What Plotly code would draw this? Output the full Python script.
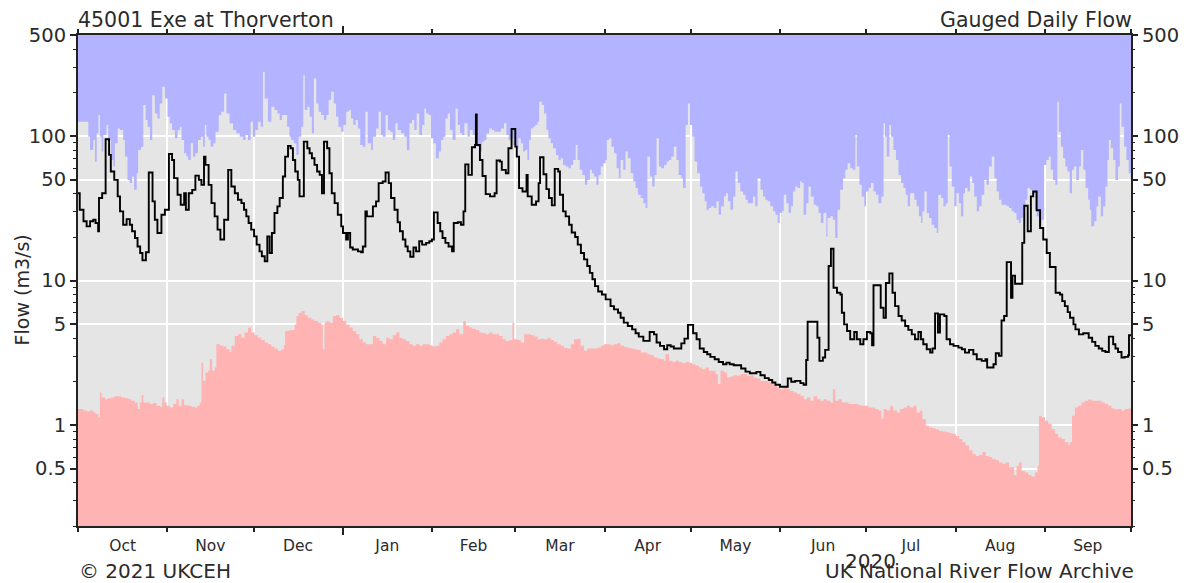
import pandas as pd
import plotly.graph_objects as go

START = pd.Timestamp("2019-10-01")
END = pd.Timestamp("2020-10-01")
Y_MIN, Y_TOP = 0.2, 500

# ---- daily gauged flow (day offset from 1 Oct 2019, m3/s) ----
flow_day = [0, 0.6, 1.9, 3.0, 4.2, 5.3, 6.1, 7.0, 7.3, 8.4, 9.6, 10.8, 11.4, 12.6, 13.8, 14.6, 15.7, 16.9,
            18.0, 18.8, 19.8, 20.7, 21.6, 22.4, 23.6, 24.6, 25.9, 26.7, 27.6, 29.0, 30.2, 31.6, 32.7, 33.4,
            34.6, 35.7, 36.9, 37.5, 38.5, 39.7, 40.8, 42.0, 42.9, 43.8, 44.3, 45.4, 46.4, 47.5, 48.5, 49.5,
            50.8, 52.2, 53.3, 54.5, 55.6, 56.8, 57.7, 58.5, 59.3, 60.2, 61.2, 62.1, 63.1, 63.9, 64.9, 65.8,
            66.6, 67.4, 68.3, 69.3, 70.1, 71.2, 72.0, 73.0, 73.9, 74.7, 75.5, 76.4, 77.0, 78.5, 79.7, 80.5,
            81.3, 82.2, 83.1, 84.0, 84.8, 85.5, 86.6, 87.4, 88.2, 89.2, 90.3, 91.5,
            92.1, 93.2, 93.8, 94.6, 95.5, 97.3, 98.4, 99.0, 99.9, 100.4, 102.5, 103.6, 104.5, 105.9, 106.9,
            108.0, 108.8, 110.0, 111.1, 111.9, 112.9, 113.8, 114.6, 115.5, 116.6, 117.5, 118.6, 119.6, 121.0,
            122.1, 123.0, 123.7, 125.0, 125.9, 126.7, 127.7, 128.8, 130.0, 130.6, 132.0, 133.1, 134.0, 134.6,
            135.7, 136.9, 138.0, 138.3, 138.6, 139.7, 140.6, 141.7, 143.2, 144.8, 145.5, 146.7, 147.3, 148.7,
            149.6, 150.7, 152.0, 152.5, 153.3, 154.5, 155.9, 156.3, 157.7, 159.2, 160.1, 160.6, 161.8, 162.8,
            163.7, 164.7, 165.7, 166.9, 167.5, 168.6, 169.5, 170.7, 171.6, 172.8, 173.7, 174.8, 175.9, 177.0,
            177.9, 178.8, 179.7, 180.8, 182.1, 183.4,
            185.1, 186.3, 187.7, 188.6, 189.7, 191.1, 192.6, 193.8, 194.9, 196.5, 198.7, 200.2, 201.1, 202.3,
            203.7, 204.8, 206.0, 207.1, 209.7, 210.8, 212.0, 213.8, 215.0, 216.1, 217.5, 218.7, 219.8, 221.3,
            222.7, 224.2, 225.4, 226.5, 227.9, 230.5, 232.0, 233.5, 235.8, 237.2, 238.7, 240.1, 241.3, 242.4,
            244.0, 246.7, 247.9, 249.3, 251.1, 252.2, 253.1, 253.6, 257.0, 257.7, 258.9, 259.7, 260.9, 261.7,
            262.6, 263.8, 265.0, 265.5, 266.3, 267.3, 268.4, 269.8, 270.7, 271.9, 273.0, 274.2, 275.4, 276.0,
            276.5, 279.0, 280.0, 280.8, 282.0, 283.1, 284.0, 285.2, 286.3, 287.5, 288.6, 289.8, 290.9, 292.1,
            293.0, 293.8, 295.0, 296.2, 297.0, 297.9, 298.9, 299.6, 301.1, 301.9, 303.1, 304.3, 306.0, 307.2,
            308.3, 309.7, 311.2, 312.4, 314.1, 315.4, 316.0, 318.2, 319.0, 320.1, 321.0, 321.9, 322.8, 324.3,
            324.8, 325.7, 328.2, 328.9, 330.1, 331.2, 332.0, 333.2, 334.4, 335.5, 336.7, 337.8, 339.8, 341.3,
            342.1, 343.0, 344.0, 344.8, 346.0, 346.7, 347.9, 349.4, 351.3, 352.5, 353.6, 354.8, 356.0, 357.1,
            358.3, 359.8, 360.6, 361.5, 362.7, 363.8, 365.0, 365.3]
flow_val = [40.2, 30.9, 25.7, 23.7, 25.7, 26.3, 25.0, 21.9, 37.2, 40.2, 95, 74, 56.8, 49.7, 38.2, 30.1, 24.3, 26.6,
            24.3, 21.9, 19.7, 17.2, 15.5, 13.8, 15.7, 55.9, 35.3, 26.3, 21.3, 28.5, 30.9, 75.1, 68.3, 51.1,
            39.2, 33.4, 40.2, 30.9, 40.2, 42.4, 53.2, 49.7, 45.9, 72, 63.1, 45.9, 34.3, 27.8, 22.5, 19.2,
            26.3, 58.3, 44.7, 40.2, 36.2, 34.3, 30.9, 27.8, 25.0, 22.5, 20.2, 17.7, 15.9, 14.7, 13.6, 20.2,
            15.5, 21.3, 29.3, 32.6, 37.2, 52.4, 72, 85.5, 82.2, 68.3, 56.8, 49.7, 38.2, 91.4, 82.2, 75.9,
            70.2, 63.1, 56.8, 53.8, 40.2, 91.4, 82.2, 55.3, 40.2, 34.3, 28.5, 23.7,
            21.3, 19.2, 21.3, 16.9, 16.4, 15.9, 15.7, 17.2, 30.1, 27.8, 32.6, 35.3, 47.2, 48.4, 55.9,
            47.2, 37.2, 30.9, 25.3, 21.9, 19.2, 17.2, 15.9, 14.6, 16.9, 15.9, 18.7, 17.7, 18.2,
            18.7, 19.2, 29.6, 25.0, 21.9, 19.7, 18.2, 17.2, 15.9, 25.0, 25.3, 24.3, 30.1, 63.6,
            53.8, 83.5, 86.7, 141, 86.7, 68.3, 52.9, 39.6, 38.2, 40.2, 67.6, 66.5, 58.3, 55.3,
            82.2, 111.8, 84.4, 72, 43.6, 41.3, 53.8, 38.2, 33.4, 35.3, 47.2, 71.3, 54.4, 42.9,
            37.2, 33.1, 59.2, 56.8, 39.2, 30.1, 27.8, 24.3, 21.5, 20.0, 17.7, 15.5, 14.0, 12.6,
            11.3, 10.2, 9.14, 8.4, 8.0, 7.4,
            6.65, 6.31, 5.98, 5.53, 5.11, 4.84, 4.59, 4.31, 4.09, 3.82, 4.40, 4.24, 3.72, 3.53,
            3.34, 3.56, 3.49, 3.38, 3.67, 3.96, 4.93, 4.31, 3.92, 3.38, 3.20, 3.09, 2.96, 2.85,
            2.73, 2.63, 2.70, 2.63, 2.59, 2.46, 2.34, 2.28, 2.33, 2.21, 2.11, 2.05, 1.97, 1.90,
            1.84, 2.10, 1.99, 2.02, 1.95, 1.90, 2.82, 5.18, 4.02, 2.78, 2.93, 3.31, 12.6, 16.6,
            8.9, 8.22, 8.0, 5.98, 4.97, 4.47, 3.92, 4.40, 3.92, 3.62, 3.92, 4.40, 4.31, 3.56,
            9.28, 6.47, 5.53, 9.6, 11.2, 8.22, 6.65, 5.68, 5.29, 4.84, 4.55, 4.24, 3.92, 4.40,
            3.92, 3.62, 3.34, 3.17, 3.38, 5.92, 4.36, 5.83, 5.68, 3.92, 3.62, 3.53, 3.43, 3.34,
            3.17, 3.31, 3.09, 2.85, 2.78, 2.85, 2.50, 2.63, 3.14, 3.01, 5.29, 5.68, 13.4, 7.6,
            10.8, 9.5, 18.2, 32.9, 21.9, 38.2, 41.3, 30.6, 23.1, 19.2, 15.5, 12.4, 8.22, 8.0,
            7.2, 6.65, 6.04, 5.53, 4.97, 4.59, 4.24, 4.31, 4.02, 3.76, 3.53, 3.38, 3.26, 3.20,
            4.09, 3.62, 3.38, 3.20, 2.93, 2.96, 3.04, 4.18]

# ---- maximum daily flow for each day over the record ----
max_day = [0, 3.6, 4.2, 5.3, 5.9, 6.5, 7.1, 7.6, 8.2, 8.8, 9.9, 10.5, 11.4, 12.3, 12.8, 13.8, 14.6, 15.7, 16.3,
           17.2, 18.0, 18.8, 19.5, 20.4, 20.9, 21.9, 22.7, 23.5, 24.2, 25.0, 25.8, 26.7, 27.6, 28.4, 29.3,
           30.2, 31.1, 31.9, 32.7, 33.7, 34.6, 35.4, 36.0, 36.9, 37.7, 38.3, 39.2, 40.0, 40.8, 41.7, 42.7,
           43.5, 44.1, 44.6, 45.4, 46.1, 47.0, 47.8, 48.9, 49.8, 50.8, 51.6, 52.7, 53.9, 55.0, 56.2, 57.4,
           58.2, 59.1, 60.0, 60.8, 61.6, 62.6, 63.5, 64.3, 64.9, 66.0, 67.2, 68.3, 69.3, 70.1, 70.9, 72.7,
           73.5, 74.1, 75.0, 75.9, 76.7, 77.6, 78.3, 78.8, 79.7, 80.5, 81.3, 82.0, 82.8, 83.6, 84.5, 85.5,
           86.3, 87.1, 88.0, 88.9, 89.7, 90.5, 91.5,
           92.3, 93.2, 94.1, 94.9, 95.7, 96.5, 97.3, 98.1, 99.0, 99.9, 100.7, 101.9, 102.5, 103.6, 104.5,
           105.3, 105.9, 106.9, 107.7, 108.5, 109.4, 110.3, 111.1, 112.3, 113.4, 114.3, 115.2, 116.1, 116.9,
           117.7, 118.6, 119.6, 120.4, 121.0, 121.9, 122.7, 123.5, 124.4, 125.4, 126.2, 127.0, 127.7, 128.5,
           129.3, 130.2, 131.2, 132.0, 132.8, 133.5, 134.3, 135.4, 136.2, 137.2, 138.1, 138.9, 139.5, 140.4,
           141.2, 142.0, 142.9, 143.9, 144.7, 145.8, 147.0, 148.1, 148.9, 149.7, 150.4, 151.3, 152.2, 153.1,
           153.9, 154.7, 155.4, 156.2, 156.8, 157.4, 158.2, 158.9, 159.7, 160.3, 161.2, 162.0, 162.8, 163.5,
           164.3, 165.1, 166.1, 167.0, 167.8, 168.6, 169.5, 170.5, 171.3, 172.1, 173.0, 173.6, 174.4, 175.3,
           176.2, 177.0, 177.9, 178.6, 179.4, 180.2, 180.9, 181.7, 182.5, 183.4,
           183.8, 184.6, 185.4, 186.3, 187.2, 188.0, 188.6, 189.5, 190.3, 191.1, 192.1, 193.0, 193.8, 194.6,
           195.6, 196.5, 197.3, 197.9, 198.8, 199.6, 200.4, 201.1, 201.9, 202.7, 203.7, 204.6, 205.4, 206.2,
           207.1, 208.0, 208.8, 209.7, 210.3, 211.2, 212.0, 212.7, 213.5, 214.3, 215.2, 216.2, 217.0, 217.8,
           218.5, 219.3, 220.1, 221.0, 221.9, 222.7, 223.5, 224.5, 225.2, 225.9, 226.8, 227.7, 228.5, 229.3,
           230.2, 231.2, 232.0, 232.8, 233.7, 234.6, 235.4, 236.2, 237.2, 238.1, 238.9, 239.7, 240.6, 241.6,
           242.4, 243.2, 243.9, 244.7, 245.3, 246.2, 247.0, 247.8, 248.5, 249.3, 250.1, 251.0, 251.6, 252.2,
           253.1, 253.9, 254.7, 255.7, 256.6, 257.4, 258.2, 259.1, 260.1, 260.5, 261.5, 262.4, 263.2, 264.0,
           264.9, 265.9, 266.7, 267.5, 268.4, 269.3, 270.2, 270.7, 271.6, 272.4, 273.3, 273.9, 274.8, 275.6,
           276.5, 277.3, 278.2, 279.2, 280.0, 280.5, 281.1, 282.0, 282.6, 283.4, 284.3, 285.2, 286.1, 286.9,
           287.7, 288.4, 289.2, 290.7, 291.5, 292.3, 293.0, 293.5, 294.2, 295.0, 295.8, 296.7, 297.6, 298.5,
           299.0, 300.0, 300.8, 301.6, 302.3, 302.9, 303.7, 304.6, 305.4, 306.2, 306.9, 307.7, 308.3, 309.2,
           310.0, 310.8, 311.5, 312.4, 313.2, 314.1, 315.0, 315.8, 316.6, 317.6, 318.5, 319.3, 320.1, 321.0,
           322.8, 323.6, 324.5, 325.4, 326.2, 327.0, 327.7, 328.5, 329.3, 330.0, 330.8, 331.7, 332.6, 333.2,
           334.0, 334.9, 335.8, 336.6, 337.4, 338.1, 338.9, 339.7, 340.4, 340.9, 341.6, 342.4, 343.2, 343.9,
           344.7, 345.5, 346.2, 347.0, 347.9, 348.6, 349.4, 350.2, 351.1, 351.7, 352.2, 353.2, 354.0, 354.6,
           355.5, 356.3, 357.1, 357.8, 358.3, 359.0, 359.8, 360.6, 361.5, 362.1, 362.7, 363.6, 364.4, 365.2,
           365.9]
max_val = [125.6, 98.9, 80.1, 93.8, 66.5, 104.3, 139.6, 98.9, 78.0, 101.6, 119.1, 93.8, 68.3, 61.4, 89.0, 112.9, 110, 93.8, 72,
           49.7, 47.2, 52.4, 42.4, 55.3, 80.1, 84.4, 163.6, 128.9, 116, 93.8, 191.8, 143.3, 132.4, 168, 218.9,
           181.9, 135.9, 122.3, 110, 96.4, 110, 116, 93.8, 75.9, 72, 68.3, 89, 72, 75.9, 93.8, 98.9,
           84.4, 119.1, 98.9, 93.8, 84.4, 89, 107.1, 139.6, 147.2, 197, 143.3, 122.3, 110, 104.3, 98.9, 93.8,
           101.6, 93.8, 125.6, 98.9, 110, 125.6, 116, 277.8, 181.9, 125.6, 159.3, 151.1, 143.3, 128.9, 139.6, 116,
           98.9, 93.8, 89, 74, 98.9, 116, 263.4, 151.1, 159.3, 135.9, 104.3, 249.9, 168, 147.2, 139.6, 128.9,
           139.6, 177.2, 202.2, 168, 135.9, 116, 107.1,
           119.1, 147.2, 151.1, 132.4, 119.1, 128.9, 112.9, 86.7, 84.4, 147.2, 89, 80.1, 98.9, 112.9, 147.2,
           101.6, 98.9, 139.6, 110, 107.1, 93.8, 122.3, 110, 104.3, 98.9, 80.1, 122.3, 128.9, 110,
           143.3, 101.6, 119.1, 155.2, 143.3, 139.6, 96.4, 89, 70.2, 78, 93.8, 98.9, 132.4, 143.3,
           110, 93.8, 155.2, 119.1, 104.3, 101.6, 122.3, 98.9, 110, 101.6, 143.3, 84.4, 78, 91.4,
           93.8, 104.3, 112.9, 110, 107.1, 107.1, 112.9, 122.3, 101.6, 93.8, 96.4, 86.7, 82.2, 96.4,
           89, 78, 80.1, 68.3, 93.8, 112.9, 116, 119.1, 125.6, 172.5, 163.6, 143.3, 110, 96.4,
           89, 82.2, 74, 68.3, 70.2, 63.1, 61.4, 59.8, 63.1, 68.3, 86.7, 68.3, 58.3, 53.8,
           45.9, 49.7, 58.3, 55.3, 52.4, 45.9, 53.8, 61.4, 64.8, 68.3,
           93.8, 96.4, 84.4, 75.9, 59.8, 51.1, 68.3, 58.3, 78, 70.2, 55.3, 48.4, 43.6, 39.2,
           37.2, 34.3, 31.7, 72, 52.4, 44.7, 53.8, 96.4, 61.4, 59.8, 63.1, 66.5, 68.3, 72,
           84.4, 68.3, 53.8, 51.1, 43.6, 119.1, 168, 119.1, 98.9, 66.5, 55.3, 44.7, 40.2, 35.3,
           30.9, 31.7, 32.6, 31.7, 35.3, 28.5, 32.6, 38.2, 40.2, 35.3, 30.9, 38.2, 56.8, 47.2,
           41.3, 39.2, 36.2, 34.3, 34.3, 38.2, 32.6, 51.1, 42.4, 38.2, 36.2, 35.3, 32.6, 30.1,
           28.5, 25, 29.3, 30.1, 39.2, 34.3, 29.3, 32.6, 41.3, 44.7, 43.6, 48.4, 47.2, 28.5,
           34.3, 44.7, 38.2, 33.4, 32.6, 29.3, 25, 29.3, 20.2, 27.1, 27.8, 26.3, 19.7, 30.9,
           42.4, 51.1, 58.3, 64.8, 59.8, 58.3, 101.6, 61.4, 45.9, 38.2, 32.6, 41.3, 43.6, 47.2,
           41.3, 39.2, 34.3, 38.2, 122.3, 98.9, 72, 119.1, 98.9, 80.1, 68.3, 53.8, 47.2, 43.6,
           39.2, 32.6, 40.2, 36.2, 32.6, 27.8, 25, 30.1, 41.3, 29.3, 27.1, 24.3, 23.1, 21.3,
           39.2, 37.2, 32.6, 34.3, 101.6, 61.4, 44.7, 32.6, 40.2, 34.3, 27.8, 40.2, 43.6, 41.3,
           52.4, 47.2, 38.2, 30.1, 32.6, 39.2, 49.7, 45.9, 61.4, 72, 51.1, 41.3, 36.2, 33.4,
           32.6, 31.7, 30.1, 29.3, 26.3, 25, 27.1, 30.9, 36.2, 43.6, 42.4, 40.2, 30.9, 27.8,
           23.7, 26.3, 63.1, 68.3, 72, 58.3, 49.7, 45.9, 172.5, 107.1, 84.4, 70.2, 61.4, 56.8,
           40.2, 58.3, 61.4, 49.7, 61.4, 80.1, 58.3, 43.6, 36.2, 30.9, 23.7, 25.7, 32.6, 38.2,
           27.8, 32.6, 44.7, 68.3, 93.8, 82.2, 68.3, 49.7, 61.4, 168, 116, 84.4, 68.3, 55.3,
           49.7]

# ---- minimum daily flow for each day over the record ----
min_day = [0, 1.9, 3.0, 4.2, 5.3, 6.1, 7.1, 7.6, 8.2, 9.4, 10.5, 11.7, 12.8, 14.0, 15.1, 16.3, 17.5, 18.6, 19.8,
           20.7, 21.5, 22.1, 22.7, 23.8, 25.0, 26.1, 27.3, 28.4, 29.3, 30.0, 30.8, 31.9, 33.1, 34.2, 35.0,
           36.0, 36.9, 38.3, 39.4, 40.6, 41.5, 42.3, 42.9, 43.5, 44.3, 45.2, 45.8, 46.6, 47.5, 48.1, 49.3,
           50.4, 51.6, 52.7, 53.3, 54.5, 55.6, 56.8, 57.9, 59.1, 60.2, 61.4, 62.6, 63.7, 64.9, 66.0, 67.2,
           68.3, 69.5, 70.7, 71.6, 72.0, 73.5, 74.7, 75.3, 75.9, 76.7, 77.6, 78.8, 79.9, 81.1, 82.2, 83.4,
           84.5, 85.1, 85.7, 86.3, 87.4, 88.6, 89.7, 90.9, 92.1,
           93.2, 94.4, 95.5, 96.7, 97.8, 99.0, 100.1, 101.3, 102.5, 103.6, 104.8, 105.9, 107.1, 108.2, 109.4,
           110.6, 111.7, 112.9, 114.0, 115.2, 116.3, 117.5, 118.7, 119.8, 121.0, 122.1, 123.3, 124.4, 125.6,
           126.7, 127.9, 129.1, 130.2, 131.4, 132.5, 133.9, 134.8, 136.0, 137.1, 138.3, 139.5, 140.6, 141.8,
           142.9, 144.1, 145.3, 146.4, 147.6, 148.7, 149.9, 151.0, 151.6, 152.8, 153.9, 155.1, 156.2, 157.4,
           158.6, 159.7, 160.9, 162.0, 163.2, 164.3, 165.5, 166.6, 167.8, 168.9, 170.1, 171.3, 172.4, 173.6,
           174.7, 175.9, 177.0, 178.2, 179.4, 180.5, 181.7, 182.8,
           184.0, 185.1, 186.3, 187.5, 188.6, 189.8, 190.9, 192.1, 193.2, 194.4, 195.6, 196.7, 197.9, 199.0,
           200.2, 201.3, 202.5, 203.7, 204.2, 205.4, 206.5, 207.7, 208.8, 210.0, 211.2, 212.3, 213.5, 214.6,
           215.8, 216.9, 218.1, 219.3, 220.4, 221.6, 222.4, 223.3, 224.5, 225.6, 226.8, 227.9, 229.1, 230.2,
           231.4, 232.6, 233.7, 234.9, 236.0, 237.2, 238.4, 239.5, 240.7, 241.8, 243.0, 244.1, 245.3, 246.5,
           247.6, 248.8, 249.9, 251.1, 252.2, 253.4, 254.5, 255.7, 256.9, 258.0, 259.2, 260.3, 261.5, 262.4,
           263.2, 264.4, 265.5, 266.7, 267.8, 269.0, 270.1, 271.3, 272.5, 273.6, 274.8,
           276.0, 277.1, 278.2, 279.2, 280.0, 281.1, 282.3, 283.4, 284.6, 285.7, 286.9, 288.1, 289.2, 290.4,
           291.5, 292.7, 293.5, 294.7, 295.8, 297.0, 298.1, 299.3, 300.4, 301.6, 302.8, 303.9, 305.1, 306.2,
           307.4, 308.5, 309.7, 310.9, 312.0, 313.2, 314.3, 315.5, 316.6, 317.8, 319.0, 320.1, 321.3, 322.4,
           323.6, 324.7, 325.4, 326.2, 327.0, 328.0, 329.1, 330.3, 331.4, 332.6, 333.5, 334.0, 334.9, 336.1,
           337.2, 338.4, 339.5, 340.7, 341.9, 343.0, 344.2, 344.7, 345.5, 346.5, 347.6, 348.8, 349.9, 351.1,
           352.3, 353.4, 354.6, 355.7, 356.9, 358.0, 359.2, 360.3, 361.5, 362.7, 363.8, 365.0]
min_val = [1.29, 1.26, 1.24, 1.26, 1.22, 1.19, 1.13, 1.68, 1.55, 1.51, 1.53, 1.55, 1.58, 1.58, 1.55, 1.53, 1.51, 1.47, 1.43,
           1.29, 1.43, 1.61, 1.43, 1.43, 1.40, 1.42, 1.36, 1.34, 1.55, 1.43, 1.36, 1.32, 1.40, 1.51, 1.36,
           1.51, 1.37, 1.36, 1.34, 1.32, 1.36, 1.43, 2.70, 2.02, 2.31, 2.37, 2.85, 2.37, 2.50, 3.62, 3.53,
           3.49, 3.34, 3.20, 3.53, 4.13, 4.24, 4.02, 4.36, 4.72, 4.36, 4.18, 4.02, 3.88, 3.72, 3.62, 3.49,
           3.38, 3.26, 3.34, 3.56, 4.47, 4.55, 4.55, 4.97, 5.68, 5.98, 6.14, 5.74, 5.53, 5.38, 5.24, 5.11,
           4.97, 3.34, 5.11, 5.24, 5.11, 5.68, 5.74, 5.53, 5.24,
           4.97, 4.72, 4.47, 4.24, 3.92, 3.72, 3.62, 3.62, 4.13, 4.02, 3.82, 3.62, 4.02, 3.92, 4.18,
           4.36, 4.02, 3.92, 3.82, 3.62, 3.53, 3.62, 3.53, 3.62, 3.62, 3.56, 3.49, 3.53, 3.72,
           3.92, 4.13, 4.24, 4.36, 4.59, 4.24, 5.24, 4.84, 4.72, 4.64, 4.55, 4.36, 4.31, 4.24,
           4.36, 4.24, 4.24, 4.13, 3.92, 3.82, 3.88, 5.11, 3.92, 3.88, 3.72, 4.24, 4.24, 4.18,
           4.09, 3.92, 3.96, 3.92, 4.02, 3.88, 3.76, 3.62, 3.53, 3.43, 3.38, 3.62, 3.92, 3.96,
           3.53, 3.26, 3.38, 3.38, 3.38, 3.43, 3.53, 3.62,
           3.62, 3.56, 3.62, 3.68, 3.53, 3.47, 3.43, 3.38, 3.34, 3.31, 3.17, 3.17, 3.09, 3.04,
           2.93, 2.88, 2.85, 2.78, 3.09, 2.78, 2.73, 2.78, 2.73, 2.68, 2.73, 2.70, 2.63, 2.57,
           2.50, 2.43, 2.50, 2.37, 2.37, 2.25, 1.92, 2.37, 2.31, 2.13, 2.17, 2.21, 2.19, 2.25,
           2.25, 2.19, 2.21, 2.13, 2.10, 2.02, 2.02, 1.99, 1.95, 1.87, 1.82, 1.77, 1.82, 1.77,
           1.72, 1.68, 1.64, 1.59, 1.51, 1.55, 1.47, 1.58, 1.51, 1.47, 1.51, 1.47, 1.43, 1.77,
           1.47, 1.51, 1.43, 1.43, 1.40, 1.40, 1.40, 1.37, 1.36, 1.36, 1.32,
           1.32, 1.29, 1.26, 1.11, 1.29, 1.26, 1.35, 1.26, 1.22, 1.29, 1.32, 1.36, 1.32, 1.36,
           1.22, 1.26, 1.10, 0.99, 0.96, 0.95, 0.93, 0.91, 0.90, 0.89, 0.88, 0.87, 0.84, 0.80,
           0.76, 0.72, 0.67, 0.63, 0.61, 0.62, 0.65, 0.61, 0.60, 0.58, 0.57, 0.55, 0.54, 0.55,
           0.51, 0.51, 0.45, 0.52, 0.55, 0.48, 0.47, 0.45, 0.44, 0.47, 0.52, 1.16, 1.13, 1.07,
           1.02, 0.94, 0.87, 0.82, 0.80, 0.76, 0.73, 0.76, 1.16, 1.32, 1.36, 1.43, 1.47, 1.50,
           1.47, 1.47, 1.47, 1.43, 1.40, 1.36, 1.30, 1.28, 1.29, 1.26, 1.29, 1.30]

month_names = ["Oct", "Nov", "Dec", "Jan", "Feb", "Mar", "Apr", "May", "Jun", "Jul", "Aug", "Sep"]
y_major = [0.5, 1, 5, 10, 50, 100, 500]
y_major_text = ["0.5", "1", "5", "10", "50", "100", "500"]
y_minor = [0.2, 0.3, 0.4, 0.6, 0.7, 0.8, 0.9, 2, 3, 4, 6, 7, 8, 9, 20, 30, 40, 60, 70, 80, 90, 200, 300, 400]

BLUE = "rgb(179,179,255)"
PINK = "rgb(255,179,179)"
GREY = "rgb(229,229,229)"
TXT = "#2b2b2b"
AX = "#222222"
FONT = "DejaVu Sans"
YR = [-0.69897, 2.69897]


def to_dates(days):
    return [START + pd.Timedelta(days=float(d)) for d in days]


def extend(days, vals):
    # hold the last daily value until the end of the water year
    n_days = (END - START).days
    return to_dates(list(days) + [n_days]), list(vals) + [vals[-1]]


mx_x, mx_y = extend(max_day, max_val)
mn_x, mn_y = extend(min_day, min_val)
fl_x, fl_y = extend(flow_day, flow_val)

month_starts = list(pd.date_range(START, END, freq="MS"))
month_mids = [month_starts[i] + (month_starts[i + 1] - month_starts[i]) / 2 for i in range(12)]
year_start = [pd.Timestamp("2020-01-01")]

fig = go.Figure()
fig.add_trace(go.Scatter(x=[START, END], y=[Y_TOP, Y_TOP], mode="lines", line=dict(width=0),
                         hoverinfo="skip", showlegend=False))
fig.add_trace(go.Scatter(x=mx_x, y=mx_y, mode="lines", line=dict(width=0, shape="hv"),
                         fill="tonexty", fillcolor=BLUE, showlegend=False, name="max"))
fig.add_trace(go.Scatter(x=mn_x, y=mn_y, mode="lines", line=dict(width=0, shape="hv"),
                         fill="tozeroy", fillcolor=PINK, showlegend=False, name="min"))
# invisible anchor so the year-boundary tick axis is drawn
fig.add_trace(go.Scatter(x=year_start, y=[Y_MIN], xaxis="x3", yaxis="y", mode="markers",
                         marker=dict(size=1, opacity=0), hoverinfo="skip", showlegend=False))
# daily flow on the overlaid axes (month labels + right-hand labels)
fig.add_trace(go.Scatter(x=fl_x, y=fl_y, xaxis="x2", yaxis="y2", mode="lines",
                         line=dict(color="black", width=1.9, shape="hv"),
                         showlegend=False, name="flow"))

fig.update_layout(
    width=1191, height=583,
    margin=dict(l=78, r=58, t=35, b=57),
    paper_bgcolor="white", plot_bgcolor=GREY,
    font=dict(family=FONT, color=TXT, size=19.5),
    xaxis=dict(type="date", range=[START, END], tickmode="array", tickvals=month_starts,
               showticklabels=False, ticks="outside", ticklen=4, tickwidth=1.5, tickcolor=AX,
               showgrid=True, gridcolor="white", gridwidth=2,
               showline=True, linecolor=AX, linewidth=2, mirror="ticks", zeroline=False),
    xaxis2=dict(type="date", range=[START, END], overlaying="x", anchor="y2", side="bottom",
                tickmode="array", tickvals=month_mids, ticktext=month_names, ticks="",
                showgrid=False, showline=False, zeroline=False,
                tickfont=dict(size=15.5, family=FONT, color=TXT), ticklabelstandoff=8),
    xaxis3=dict(type="date", range=[START, END], overlaying="x", anchor="y", side="bottom",
                tickmode="array", tickvals=year_start, showticklabels=False,
                ticks="outside", ticklen=8, tickwidth=1.5, tickcolor=AX, mirror="ticks",
                showgrid=False, showline=False, zeroline=False),
    yaxis=dict(type="log", range=YR, tickmode="array", tickvals=y_major,
               ticktext=y_major_text, ticks="outside", ticklen=6, tickwidth=1.5, tickcolor=AX,
               minor=dict(tickvals=y_minor, ticks="outside", ticklen=3, tickwidth=1.2,
                          tickcolor=AX, showgrid=False),
               showgrid=True, gridcolor="white", gridwidth=2,
               showline=True, linecolor=AX, linewidth=2, mirror=True, zeroline=False,
               tickfont=dict(size=19.5)),
    yaxis2=dict(type="log", range=YR, overlaying="y", side="right", anchor="x2",
                tickmode="array", tickvals=y_major, ticktext=y_major_text, ticks="outside",
                ticklen=6, tickwidth=1.5, tickcolor=AX,
                minor=dict(tickvals=y_minor, ticks="outside", ticklen=3, tickwidth=1.2,
                           tickcolor=AX, showgrid=False),
                showgrid=False, showline=False, zeroline=False, tickfont=dict(size=19.5)),
)

fig.add_annotation(text="45001 Exe at Thorverton", xref="paper", yref="paper", x=0, y=1,
                   xanchor="left", yanchor="bottom", yshift=1, xshift=-2, showarrow=False,
                   font=dict(size=20.5))
fig.add_annotation(text="Gauged Daily Flow", xref="paper", yref="paper", x=1, y=1,
                   xanchor="right", yanchor="bottom", yshift=1, xshift=3, showarrow=False,
                   font=dict(size=20.5))
fig.add_annotation(text="Flow (m3/s)", xref="paper", yref="paper", x=-56 / 1055, y=0.48,
                   xanchor="center", yanchor="middle", textangle=-90, showarrow=False,
                   font=dict(size=19))
fig.add_annotation(text="2020", xref="paper", yref="paper", x=(872 - 78) / 1055, y=-35 / 491,
                   xanchor="center", yanchor="middle", showarrow=False, font=dict(size=20))
fig.add_annotation(text="© 2021 UKCEH", xref="paper", yref="paper", x=0, y=-45 / 491,
                   xanchor="left", yanchor="middle", xshift=-1, showarrow=False, font=dict(size=20))
fig.add_annotation(text="UK National River Flow Archive", xref="paper", yref="paper", x=1, y=-45 / 491,
                   xanchor="right", yanchor="middle", xshift=5, showarrow=False, font=dict(size=20))

fig.write_html("out.html", config={"displayModeBar": False},
               post_script="document.body.style.margin='0';document.body.style.padding='0';")
